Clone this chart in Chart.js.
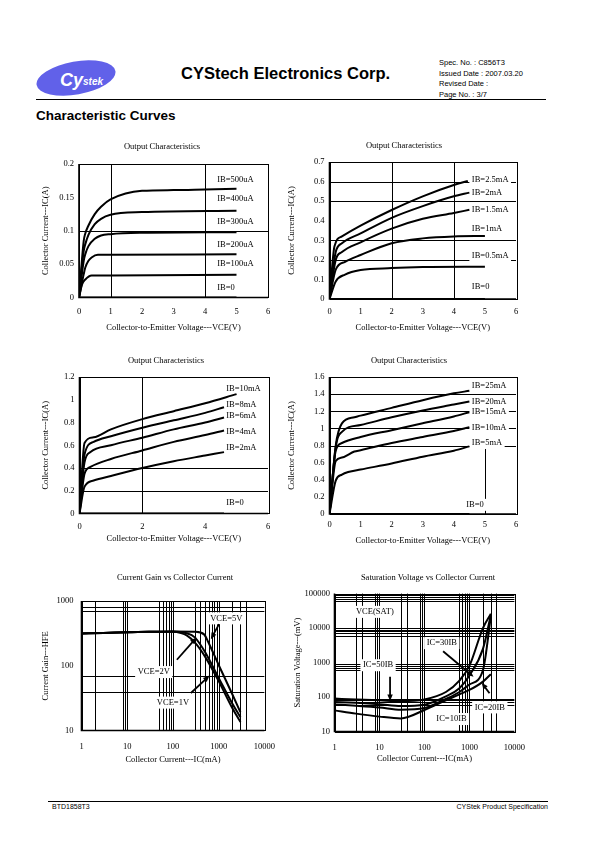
<!DOCTYPE html>
<html>
<head>
<meta charset="utf-8">
<script src="https://cdn.jsdelivr.net/npm/chart.js@4.4.0/dist/chart.umd.min.js"></script>
<style>
  body { margin: 0; background: #fff; }
  #page { position: relative; width: 595px; height: 842px; overflow: hidden; font-family: "Liberation Sans", Arial, sans-serif; color: #000; }
  .abs { position: absolute; white-space: nowrap; }
  .ctitle { position: absolute; width: 240px; text-align: center; white-space: nowrap; font-family: "Liberation Serif", serif; font-size: 8.5px; line-height: 10px; color: #000; will-change: transform; }
  canvas { position: absolute; }
</style>
</head>
<body>
<div id="page">
  <svg class="abs" style="left:34px;top:55px" width="86" height="46">
    <ellipse cx="42" cy="23" rx="40" ry="16.5" fill="#6161e9" transform="rotate(-10 42 23)"/>
    <text x="26" y="31" font-family="Liberation Sans" font-weight="bold" font-style="italic" font-size="18" fill="#fff">Cy</text>
    <text x="49" y="30" font-family="Liberation Sans" font-weight="bold" font-style="italic" font-size="10" fill="#fff">stek</text>
  </svg>
  <div class="abs" style="left:181px;top:63px;font-size:16.5px;font-weight:bold;line-height:20px">CYStech Electronics Corp.</div>
  <div class="abs" style="left:439px;top:58px;font-size:7.5px;line-height:10.7px">Spec. No. : C856T3<br>Issued Date : 2007.03.20<br>Revised Date :<br>Page No. : 3/7</div>
  <div class="abs" style="left:36px;top:99px;width:510px;height:1px;background:#000"></div>
  <div class="abs" style="left:36px;top:107px;font-size:13.5px;font-weight:bold;line-height:18px">Characteristic Curves</div>

  <div class="ctitle" style="left:42px;top:141px">Output Characteristics</div>
  <div class="ctitle" style="left:284px;top:140px">Output Characteristics</div>
  <div class="ctitle" style="left:46px;top:355px">Output Characteristics</div>
  <div class="ctitle" style="left:289px;top:355px">Output Characteristics</div>
  <div class="ctitle" style="left:55px;top:572px">Current Gain vs Collector Current</div>
  <div class="ctitle" style="left:308px;top:572px">Saturation Voltage vs Collector Current</div>

  <div class="abs" style="left:48px;top:801px;width:500px;height:1px;background:#000"></div>
  <div class="abs" style="left:52px;top:802px;font-size:7px;line-height:9px">BTD1858T3</div>
  <div class="abs" style="right:47px;top:802px;font-size:7px;line-height:9px">CYStek Product Specification</div>
</div>

<script>
// ---- chart 1: IB in uA ----
const vceTicksA = [0, 1, 2, 3, 4, 5, 6];
const icTicks1 = [0, 0.05, 0.1, 0.15, 0.2];
const ib500uA = [[0, 0], [0.15, 0.085], [0.2, 0.096], [0.3, 0.108], [0.5, 0.125], [0.7, 0.136], [1, 0.147], [2, 0.16], [3, 0.161], [4, 0.162], [5, 0.163]];
const ib400uA = [[0, 0], [0.15, 0.07], [0.2, 0.08], [0.3, 0.094], [0.5, 0.11], [0.7, 0.118], [1, 0.124], [2, 0.128], [5, 0.13]];
const ib300uA = [[0, 0], [0.15, 0.055], [0.2, 0.065], [0.3, 0.077], [0.5, 0.088], [0.7, 0.093], [1, 0.095], [2, 0.097], [5, 0.098]];
const ib200uA = [[0, 0], [0.15, 0.035], [0.2, 0.045], [0.3, 0.055], [0.4, 0.06], [0.6, 0.064], [1, 0.064], [5, 0.065]];
const ib100uA = [[0, 0], [0.1, 0.02], [0.2, 0.027], [0.4, 0.033], [1, 0.033], [5, 0.034]];
const ib0a = [[0, 0], [5, 0]];

// ---- chart 2: IB 0.5..2.5 mA ----
const icTicks2 = [0, 0.1, 0.2, 0.3, 0.4, 0.5, 0.6, 0.7];
const ib2p5mA = [[0, 0], [0.16, 0.27], [0.4, 0.32], [1, 0.375], [2, 0.455], [3, 0.525], [4, 0.583], [4.45, 0.603]];
const ib2mA = [[0, 0], [0.2, 0.24], [0.4, 0.285], [1, 0.335], [2, 0.415], [3, 0.475], [4, 0.525], [4.5, 0.544]];
const ib1p5mA = [[0, 0], [0.2, 0.2], [0.4, 0.24], [1, 0.29], [2, 0.36], [3, 0.41], [4, 0.44], [4.5, 0.456]];
const ib1mA = [[0, 0], [0.2, 0.15], [0.5, 0.19], [1, 0.225], [2, 0.285], [3, 0.31], [4, 0.32], [5, 0.322]];
const ib0p5mA = [[0, 0], [0.2, 0.09], [0.5, 0.125], [1, 0.148], [2, 0.158], [3, 0.163], [5, 0.165]];
const ib0b = [[0, 0], [5, 0]];

// ---- chart 3: IB 2..10 mA ----
const vceTicksB = [0, 2, 4, 6];
const icTicks3 = [0, 0.2, 0.4, 0.6, 0.8, 1, 1.2];
const ib10mA = [[0, 0], [0.16, 0.62], [0.45, 0.67], [1, 0.74], [2, 0.83], [3, 0.9], [4, 0.97], [5, 1.05]];
const ib8mA = [[0, 0], [0.16, 0.52], [0.45, 0.63], [1, 0.68], [2, 0.755], [3, 0.82], [4, 0.885], [4.6, 0.935]];
const ib6mA = [[0, 0], [0.16, 0.45], [0.35, 0.54], [1, 0.6], [2, 0.667], [3, 0.74], [4, 0.8], [4.6, 0.845]];
const ib4mA = [[0, 0], [0.16, 0.35], [0.35, 0.41], [1, 0.48], [2, 0.555], [3, 0.63], [4, 0.69], [4.6, 0.73]];
const ib2mAb = [[0, 0], [0.16, 0.236], [0.45, 0.29], [1, 0.33], [2, 0.4], [3, 0.46], [4, 0.51], [4.6, 0.54]];
const ib0c = [[0, 0], [4.6, 0]];

// ---- chart 4: IB 5..25 mA ----
const icTicks4 = [0, 0.2, 0.4, 0.6, 0.8, 1, 1.2, 1.4, 1.6];
const ib25mA = [[0, 0], [0.2, 0.8], [0.4, 1.06], [0.8, 1.13], [1, 1.15], [2, 1.24], [3, 1.33], [4, 1.41], [4.5, 1.44]];
const ib20mA = [[0, 0], [0.2, 0.78], [0.4, 0.96], [1, 1.04], [2, 1.13], [3, 1.21], [4, 1.28], [4.5, 1.315]];
const ib15mA = [[0, 0], [0.2, 0.74], [0.4, 0.83], [1, 0.9], [2, 0.98], [3, 1.06], [4, 1.14], [4.5, 1.19]];
const ib10mAb = [[0, 0], [0.2, 0.62], [0.4, 0.66], [0.8, 0.73], [1, 0.745], [2, 0.83], [3, 0.9], [4, 0.97], [4.5, 1.015]];
const ib5mA = [[0, 0], [0.2, 0.39], [0.4, 0.46], [0.6, 0.49], [1, 0.52], [2, 0.59], [3, 0.67], [4, 0.74], [4.5, 0.79]];
const ib0d = [[0, 0], [4.5, 0]];

// ---- chart 5: HFE vs IC (mA) ----
const icTicksLog = [1, 10, 100, 1000, 10000];
const hfeTicks = [10, 100, 1000];
const vce1V = [[1, 316], [3, 322], [10, 330], [30, 335], [100, 335], [150, 320], [200, 295], [300, 230], [500, 140], [1000, 58], [2000, 22], [3000, 13.5]];
const vce2V = [[1, 316], [3, 322], [10, 330], [30, 336], [100, 340], [200, 318], [300, 275], [500, 165], [1000, 65], [2000, 26], [3000, 16]];
const vce5V = [[1, 316], [3, 322], [10, 330], [30, 336], [100, 340], [300, 335], [480, 306], [580, 240], [1000, 103], [2000, 36], [3000, 19]];

// ---- chart 6: VCE(sat) (mV) vs IC (mA) ----
const vsatTicks = [10, 100, 1000, 10000, 100000];
const ic50ib = [[1, 90], [3, 85], [10, 80], [30, 76], [100, 85], [300, 140], [600, 300], [1000, 800], [2000, 10000], [3000, 26000]];
const ic30ib = [[1, 72], [3, 68], [10, 62], [30, 55], [100, 60], [300, 105], [600, 180], [1000, 420], [2000, 2500], [3000, 24000]];
const ic20ib = [[1, 61], [3, 56], [10, 50], [30, 43], [100, 48], [300, 88], [600, 140], [1000, 230], [2000, 600], [3000, 22000]];
const ic10ib = [[1, 41], [3, 33], [10, 27], [30, 24], [100, 42], [300, 80], [600, 120], [1000, 160], [2000, 280], [3000, 460]];

// curve labels: [text, x, y, align]
const notes1 = [['IB=500uA', 4.39, 0.176], ['IB=400uA', 4.39, 0.1475], ['IB=300uA', 4.39, 0.114], ['IB=200uA', 4.39, 0.079], ['IB=100uA', 4.39, 0.05], ['IB=0', 4.39, 0.014]];
const notes2 = [['IB=2.5mA', 4.58, 0.61], ['IB=2mA', 4.58, 0.544], ['IB=1.5mA', 4.58, 0.457], ['IB=1mA', 4.58, 0.359], ['IB=0.5mA', 4.58, 0.222], ['IB=0', 4.58, 0.062]];
const notes3 = [['IB=10mA', 4.67, 1.1], ['IB=8mA', 4.67, 0.956], ['IB=6mA', 4.67, 0.864], ['IB=4mA', 4.67, 0.717], ['IB=2mA', 4.67, 0.576], ['IB=0', 4.67, 0.092]];
const notes4 = [['IB=25mA', 4.58, 1.496], ['IB=20mA', 4.58, 1.31], ['IB=15mA', 4.58, 1.19], ['IB=10mA', 4.58, 1.005], ['IB=5mA', 4.58, 0.836], ['IB=0', 4.4, 0.107]];
const notes5 = [['VCE=5V', 1465, 541, 'c'], ['VCE=2V', 38, 80, 'c'], ['VCE=1V', 100, 27, 'c']];
const notes6 = [['VCE(SAT)', 7.9, 29500, 'c'], ['IC=30IB', 243, 3650, 'c'], ['IC=50IB', 9.3, 837, 'c'], ['IC=20IB', 2840, 50, 'c'], ['IC=10IB', 400, 23, 'c']];

// arrows: [fromX, fromY, toX, toY]
const arrows5 = [[1020, 441, 676, 258], [122, 124, 327, 273], [247, 38, 631, 70.5]];
const arrows6 = [[17.2, 386, 17.2, 77], [260, 2120, 1235, 386], [2800, 128, 1875, 259]];

const serif = '"Liberation Serif", "Times New Roman", serif';
const page = document.getElementById('page');

function pts(arr) {
  return arr.map(p => ({ x: p[0], y: p[1] }));
}

function build(cfg) {
  const [L, T, R, B] = cfg.box;
  const padT = 8, padR = 18;
  const cv = document.createElement('canvas');
  cv.width = cfg.yW + (R - L) + padR;
  cv.height = padT + (B - T) + cfg.xH;
  cv.style.left = (L - cfg.yW) + 'px';
  cv.style.top = (T - padT) + 'px';
  page.appendChild(cv);

  const deco = {
    id: 'deco',
    beforeDatasetsDraw(chart) {
      const { ctx, chartArea: a, scales: { x, y } } = chart;
      ctx.save();
      ctx.strokeStyle = '#000';
      ctx.lineWidth = 1;
      cfg.gridX.forEach(g => {
        const px = Math.round(x.getPixelForValue(g[0])) + 0.5;
        const y0 = g.length > 1 ? y.getPixelForValue(g[1]) : a.bottom;
        const y1 = g.length > 2 ? y.getPixelForValue(g[2]) : a.top;
        ctx.beginPath(); ctx.moveTo(px, y0); ctx.lineTo(px, y1); ctx.stroke();
      });
      cfg.gridY.forEach(v => {
        const py = Math.round(y.getPixelForValue(v)) + 0.5;
        ctx.beginPath(); ctx.moveTo(a.left, py); ctx.lineTo(a.right, py); ctx.stroke();
      });
      // labels with white boxes hiding grid
      ctx.font = '8.5px ' + serif;
      ctx.textBaseline = 'middle';
      cfg.notes.forEach(n => {
        const px = x.getPixelForValue(n[1]), py = y.getPixelForValue(n[2]);
        const w = ctx.measureText(n[0]).width;
        const left = n[3] === 'c' ? px - w / 2 : px;
        ctx.fillStyle = '#fff';
        ctx.fillRect(left - 2.5, py - 6, w + 5, 12);
        ctx.fillStyle = '#000';
        ctx.fillText(n[0], left, py);
      });
      ctx.restore();
    },
    afterDatasetsDraw(chart) {
      const { ctx, chartArea: a, scales: { x, y } } = chart;
      ctx.save();
      ctx.strokeStyle = '#000';
      ctx.lineWidth = 1;
      ctx.strokeRect(Math.round(a.left) + 0.5, Math.round(a.top) + 0.5, Math.round(a.right - a.left), Math.round(a.bottom - a.top));
      ctx.lineWidth = 1.6;
      ctx.beginPath();
      ctx.moveTo(a.left, a.top); ctx.lineTo(a.left, a.bottom); ctx.lineTo(a.right, a.bottom);
      ctx.stroke();
      (cfg.arrows || []).forEach(ar => {
        const x0 = x.getPixelForValue(ar[0]), y0 = y.getPixelForValue(ar[1]);
        const x1 = x.getPixelForValue(ar[2]), y1 = y.getPixelForValue(ar[3]);
        const ang = Math.atan2(y1 - y0, x1 - x0);
        ctx.lineWidth = 1.8;
        ctx.beginPath(); ctx.moveTo(x0, y0); ctx.lineTo(x1 - 4 * Math.cos(ang), y1 - 4 * Math.sin(ang)); ctx.stroke();
        ctx.fillStyle = '#000';
        ctx.beginPath();
        ctx.moveTo(x1, y1);
        ctx.lineTo(x1 - 7 * Math.cos(ang - 0.4), y1 - 7 * Math.sin(ang - 0.4));
        ctx.lineTo(x1 - 7 * Math.cos(ang + 0.4), y1 - 7 * Math.sin(ang + 0.4));
        ctx.closePath(); ctx.fill();
      });
      ctx.restore();
    }
  };

  const axisCommon = (ticks, pad) => ({
    afterBuildTicks: s => { s.ticks = ticks.map(v => ({ value: v })); },
    grid: { display: false, drawTicks: false },
    border: { display: false },
    ticks: { autoSkip: false, maxRotation: 0, padding: pad, color: '#000', font: { family: serif, size: 8.5 }, callback: v => String(v) }
  });

  new Chart(cv, {
    type: 'scatter',
    data: {
      datasets: cfg.series.map(s => ({
        data: pts(s),
        showLine: true,
        borderColor: '#000',
        borderWidth: 2,
        pointRadius: 0,
        fill: false,
        cubicInterpolationMode: 'monotone'
      }))
    },
    options: {
      responsive: false,
      animation: false,
      events: [],
      layout: { padding: { top: padT, right: padR, left: 0, bottom: 0 } },
      plugins: { legend: { display: false }, tooltip: { enabled: false }, title: { display: false } },
      scales: {
        x: Object.assign(axisCommon(cfg.xTicks, cfg.xPad), {
          type: cfg.log ? 'logarithmic' : 'linear',
          min: cfg.xTicks[0], max: cfg.xTicks[cfg.xTicks.length - 1],
          afterFit: s => { s.height = cfg.xH; },
          title: { display: true, text: cfg.xTitle, color: '#000', font: { family: serif, size: 8.5 }, padding: 0 }
        }),
        y: Object.assign(axisCommon(cfg.yTicks, cfg.yPad), {
          type: cfg.log ? 'logarithmic' : 'linear',
          min: cfg.yTicks[0], max: cfg.yTicks[cfg.yTicks.length - 1],
          afterFit: s => { s.width = cfg.yW; },
          title: { display: true, text: cfg.yTitle, color: '#000', font: { family: serif, size: 8.5 }, padding: 0 }
        })
      }
    },
    plugins: [deco]
  });
}

const vceTitle = 'Collector-to-Emitter Voltage---VCE(V)';
const icTitle = 'Collector Current---IC(A)';

build({ box: [78.5, 161.5, 267.5, 297.5], yW: 38, xH: 35.5, xPad: 9.5, yPad: 5,
  xTicks: vceTicksA, yTicks: icTicks1, xTitle: vceTitle, yTitle: icTitle,
  series: [ib500uA, ib400uA, ib300uA, ib200uA, ib100uA, ib0a],
  gridX: [[1], [4]], gridY: [0.1], notes: notes1 });

build({ box: [329, 160, 516, 299], yW: 42.5, xH: 34, xPad: 8, yPad: 5,
  xTicks: vceTicksA, yTicks: icTicks2, xTitle: vceTitle, yTitle: icTitle,
  series: [ib2p5mA, ib2mA, ib1p5mA, ib1mA, ib0p5mA, ib0b],
  gridX: [[2], [4]], gridY: [0.2, 0.3, 0.5, 0.6], notes: notes2 });

build({ box: [79, 375, 268, 514], yW: 38.5, xH: 30.5, xPad: 8, yPad: 5,
  xTicks: vceTicksB, yTicks: icTicks3, xTitle: vceTitle, yTitle: icTitle,
  series: [ib10mA, ib8mA, ib6mA, ib4mA, ib2mAb, ib0c],
  gridX: [[2]], gridY: [0.2, 0.4], notes: notes3 });

build({ box: [329, 374.5, 516, 513.5], yW: 42.5, xH: 32, xPad: 6, yPad: 5,
  xTicks: vceTicksA, yTicks: icTicks4, xTitle: vceTitle, yTitle: icTitle,
  series: [ib25mA, ib20mA, ib15mA, ib10mAb, ib5mA, ib0d],
  gridX: [[5, 0, 0.76]], gridY: [0.8, 1, 1.2, 1.4], notes: notes4 });

build({ box: [81, 596, 268, 731], yW: 40.5, xH: 34.5, xPad: 11, yPad: 8, log: true,
  xTicks: icTicksLog, yTicks: hfeTicks, xTitle: 'Collector Current---IC(mA)', yTitle: 'Current Gain---HFE',
  series: [vce1V, vce2V, vce5V],
  gridX: [2, 8, 9, 10, 50, 60, 70, 80, 90, 100, 300, 400, 500, 600, 700, 800, 900, 1000, 2000, 3000, 4000].map(v => [v]),
  gridY: [800, 700, 70, 40], notes: notes5, arrows: arrows5 });

build({ box: [334.5, 591.5, 518, 731], yW: 41.5, xH: 32.5, xPad: 11, yPad: 4.5, log: true,
  xTicks: icTicksLog, yTicks: vsatTicks, xTitle: 'Collector Current---IC(mA)', yTitle: 'Saturation Voltage---(mV)',
  series: [ic50ib, ic30ib, ic20ib, ic10ib],
  gridX: [3, 4, 8, 9, 10, 30, 40, 80, 90, 100, 600, 700, 800, 900, 1000, 2000, 3000, 4000].map(v => [v]),
  gridY: [60, 70, 80, 90, 600, 700, 800, 900, 6000, 7000, 8000, 9000, 10000, 60000, 70000, 80000, 90000],
  notes: notes6, arrows: arrows6 });
</script>
</body>
</html>
